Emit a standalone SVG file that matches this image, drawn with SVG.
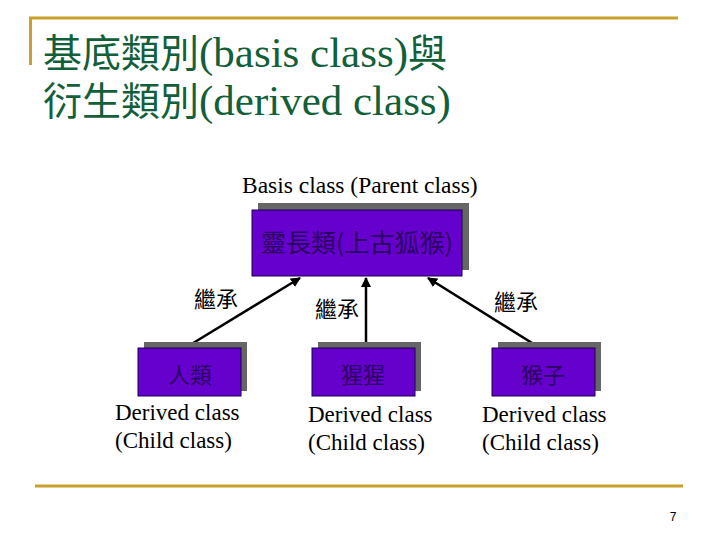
<svg xmlns="http://www.w3.org/2000/svg" width="720" height="540" viewBox="0 0 720 540">
  <style>
    .title { font-family: "Liberation Serif", "Noto Sans CJK TC", serif; font-size: 43px; fill: #12603A; }
    .cjk { font-family: "Noto Sans CJK TC", sans-serif; font-size: 39px; }
    .serif { font-family: "Liberation Serif", "Noto Sans CJK TC", serif; font-size: 23px; fill: #000; }
    .box { fill: #6600CC; stroke: #1A0050; stroke-width: 1; }
    .shadow { fill: #666666; }
    .boxtext { font-family: "Noto Sans CJK TC", sans-serif; font-size: 22px; fill: #2A0060; text-anchor: middle; }
    .label { font-family: "Noto Sans CJK TC", sans-serif; font-size: 22px; fill: #000; text-anchor: middle; }
    .gold { stroke: #C8A02A; stroke-width: 3; fill: none; }
    .conn { stroke: #000; stroke-width: 2.5; fill: none; }
  </style>
  <defs>
    <marker id="arrow" viewBox="0 0 10 10" refX="9" refY="5" markerWidth="4" markerHeight="4" orient="auto" markerUnits="strokeWidth">
      <path d="M0,0 L10,5 L0,10 z" fill="#000"/>
    </marker>
  </defs>
  <rect width="720" height="540" fill="#FFFFFF"/>

  <g id="frame">
    <line class="gold" x1="29" y1="18" x2="678" y2="18"/>
    <line class="gold" x1="30.5" y1="18" x2="30.5" y2="65"/>
    <line class="gold" x1="35" y1="486" x2="683" y2="486"/>
  </g>

  <g id="title">
    <text class="title" x="43" y="67"><tspan class="cjk">基底類別</tspan>(basis class)<tspan class="cjk">與</tspan></text>
    <text class="title" x="43" y="115"><tspan class="cjk">衍生類別</tspan>(derived class)</text>
  </g>

  <g id="connectors">
    <line class="conn" x1="185" y1="348" x2="300" y2="278" marker-end="url(#arrow)"/>
    <line class="conn" x1="366" y1="348" x2="366" y2="278" marker-end="url(#arrow)"/>
    <line class="conn" x1="540" y1="348" x2="428" y2="278" marker-end="url(#arrow)"/>
    <text class="label" x="216" y="307">繼承</text>
    <text class="label" x="337" y="317">繼承</text>
    <text class="label" x="516" y="310">繼承</text>
  </g>

  <g id="parent">
    <text class="serif" x="242" y="193" style="font-size:23.5px">Basis class (Parent class)</text>
    <rect class="shadow" x="258" y="203" width="211" height="67"/>
    <rect class="box" x="252" y="210" width="210" height="66"/>
    <text class="boxtext" x="357" y="252" style="font-size:25px">靈長類(上古狐猴)</text>
  </g>

  <g id="human">
    <rect class="shadow" x="144" y="342" width="103" height="49"/>
    <rect class="box" x="138" y="348" width="103" height="48"/>
    <text class="boxtext" x="190" y="383">人類</text>
    <text class="serif" x="115" y="420">Derived class</text>
    <text class="serif" x="115" y="448">(Child class)</text>
  </g>

  <g id="ape">
    <rect class="shadow" x="318" y="342" width="103" height="49"/>
    <rect class="box" x="312" y="348" width="103" height="48"/>
    <text class="boxtext" x="363" y="383">猩猩</text>
    <text class="serif" x="308" y="422">Derived class</text>
    <text class="serif" x="308" y="450">(Child class)</text>
  </g>

  <g id="monkey">
    <rect class="shadow" x="498" y="342" width="103" height="49"/>
    <rect class="box" x="492" y="348" width="103" height="48"/>
    <text class="boxtext" x="543" y="383">猴子</text>
    <text class="serif" x="482" y="422">Derived class</text>
    <text class="serif" x="482" y="450">(Child class)</text>
  </g>

  <g id="page">
    <text x="673" y="521" style="font-family:'Liberation Sans',sans-serif;font-size:12px;fill:#000" text-anchor="middle">7</text>
  </g>
</svg>
